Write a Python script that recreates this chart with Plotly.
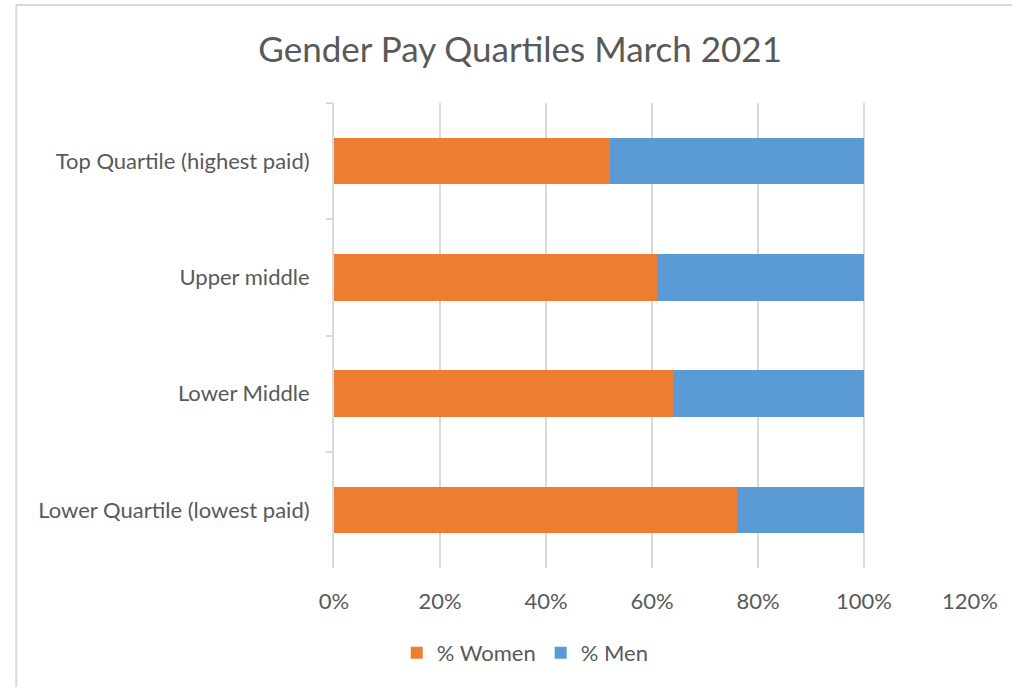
import plotly.graph_objects as go

categories = ["Top Quartile (highest paid)", "Upper middle", "Lower Middle", "Lower Quartile (lowest paid)"]
women = [0.52, 0.61, 0.64, 0.76]
men = [0.48, 0.39, 0.36, 0.24]
x_ticks = [0, 0.2, 0.4, 0.6, 0.8, 1.0, 1.2]
x_labels = ["0%", "20%", "40%", "60%", "80%", "100%", "120%"]

FONT = "Lato, 'Open Sans', sans-serif"
GREY = "#595959"
GRID = "#d9d9d9"

fig = go.Figure()
fig.add_trace(go.Bar(y=categories, x=women, name="% Women", orientation="h",
                     marker=dict(color="#ED7D31", line=dict(width=0))))
fig.add_trace(go.Bar(y=categories, x=men, name="% Men", orientation="h",
                     marker=dict(color="#5B9BD5", line=dict(width=0))))

fig.update_layout(
    barmode="stack",
    bargap=0.6,
    width=1012, height=687,
    margin=dict(l=334, r=41.5, t=103, b=119),
    paper_bgcolor="white", plot_bgcolor="white",
    font=dict(family=FONT, color=GREY, size=22),
    title=dict(text="Gender Pay Quartiles March 2021", x=0.514, xref="container",
               y=1 - 50 / 687, yref="container", xanchor="center", yanchor="middle",
               font=dict(size=35, color=GREY, family=FONT)),
    legend=dict(orientation="h", x=0.519, xref="container", y=1 - 653 / 687, yref="container",
                xanchor="center", yanchor="middle", font=dict(size=22, color=GREY),
                traceorder="normal", itemwidth=30),
    showlegend=True,
)
fig.update_xaxes(range=[0, 1.2], tickvals=x_ticks, ticktext=x_labels,
                 showgrid=True, gridcolor=GRID, gridwidth=2, zeroline=False,
                 showline=False, ticks="", ticklabelstandoff=18,
                 tickfont=dict(size=22, color=GREY), fixedrange=True)
fig.update_yaxes(autorange="reversed", showgrid=False, showline=True, linecolor=GRID, linewidth=2,
                 ticks="outside", tickson="boundaries", ticklen=6, tickcolor=GRID, tickwidth=2,
                 ticklabelstandoff=18, tickfont=dict(size=22, color=GREY))

# outer chart frame (partially cropped)
fig.add_shape(type="line", xref="paper", yref="paper",
              x0=(16 - 334) / 636.5, x1=1.2, y0=(568 - 5) / 465, y1=(568 - 5) / 465,
              line=dict(color=GRID, width=2))
fig.add_shape(type="line", xref="paper", yref="paper",
              x0=(16 - 334) / 636.5, x1=(16 - 334) / 636.5, y0=(568 - 5) / 465, y1=-0.4,
              line=dict(color=GRID, width=2))

fig.write_html("out.html")
